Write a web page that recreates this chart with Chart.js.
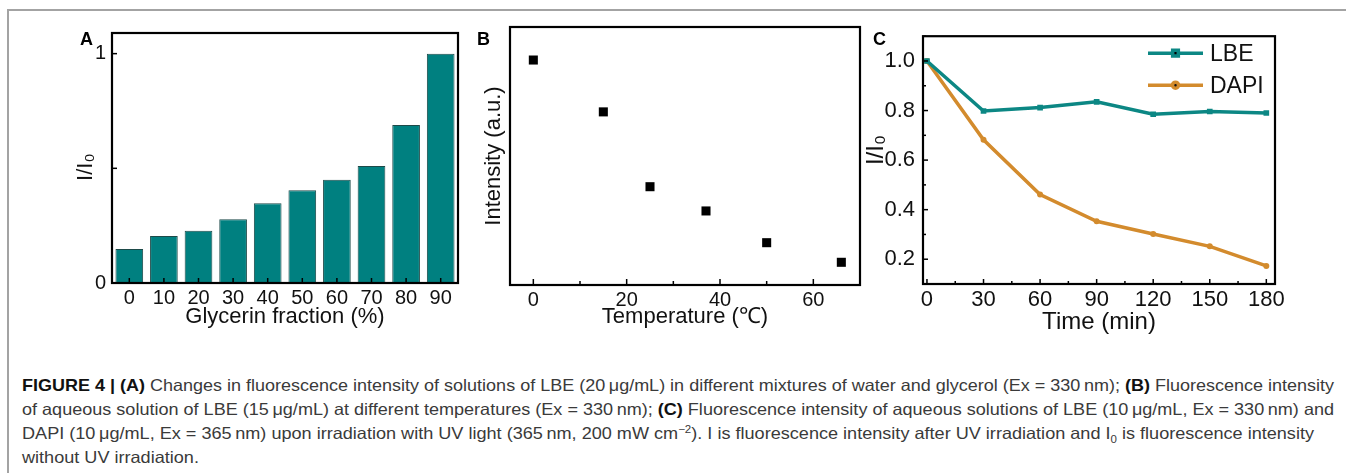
<!DOCTYPE html>
<html>
<head>
<meta charset="utf-8">
<script src="https://cdn.jsdelivr.net/npm/chart.js@4.4.1/dist/chart.umd.min.js"></script>
<style>
html,body{margin:0;padding:0;background:#fff;width:1346px;height:473px;overflow:hidden;font-family:"Liberation Sans",Arial,sans-serif;}
#frame{position:absolute;left:7px;top:9px;width:1339px;height:464px;border-top:2px solid #a3a3a3;border-left:2px solid #a3a3a3;box-sizing:border-box;}
canvas{position:absolute;}
.plabel{position:absolute;font-weight:bold;font-size:18px;line-height:1;color:#000;}
.cap{position:absolute;left:22px;white-space:nowrap;font-size:16.5px;line-height:1;color:#3a3a3a;transform-origin:0 0;font-family:"Liberation Sans Narrow","Liberation Sans",Arial,sans-serif;}
.cap b{color:#111;}
</style>
</head>
<body>
<div id="frame"></div>
<canvas id="ca" width="408" height="320" style="left:60px;top:15px"></canvas>
<canvas id="cb" width="400" height="320" style="left:468px;top:15px"></canvas>
<canvas id="cc" width="496" height="325" style="left:850px;top:15px"></canvas>
<div class="plabel" style="left:80px;top:30px">A</div>
<div class="plabel" style="left:477px;top:30px">B</div>
<div class="plabel" style="left:873px;top:30px">C</div>

<div class="cap" style="top:377px"><b>FIGURE 4 | (A)</b> Changes in fluorescence intensity of solutions of LBE (20&#8201;μg/mL) in different mixtures of water and glycerol (Ex = 330&#8201;nm); <b>(B)</b> Fluorescence intensity</div>
<div class="cap" style="top:401px">of aqueous solution of LBE (15&#8201;μg/mL) at different temperatures (Ex = 330&#8201;nm); <b>(C)</b> Fluorescence intensity of aqueous solutions of LBE (10&#8201;μg/mL, Ex = 330&#8201;nm) and</div>
<div class="cap" style="top:425px">DAPI (10&#8201;μg/mL, Ex = 365&#8201;nm) upon irradiation with UV light (365&#8201;nm, 200 mW cm<sup style="font-size:10.5px;line-height:0">−2</sup>). I is fluorescence intensity after UV irradiation and I<sub style="font-size:10.5px;line-height:0">0</sub> is fluorescence intensity</div>
<div class="cap" style="top:448.5px">without UV irradiation.</div>

<script>
// ---------- data ----------
const glycerinLabels = ['0','10','20','30','40','50','60','70','80','90'];
const glycerinRatio  = [0.148,0.205,0.228,0.278,0.348,0.404,0.450,0.510,0.689,1.0];

const temperature = [0,15,25,37,50,66];
const intensity   = [87.2,67.1,38.1,28.7,16.4,8.8];

const timeMin   = [0,30,60,90,120,150,180];
const lbeRatio  = [1.0,0.798,0.812,0.835,0.785,0.796,0.790];
const dapiRatio = [1.0,0.682,0.461,0.353,0.302,0.252,0.173];

const FONT = '"Liberation Sans", Arial, sans-serif';
Chart.defaults.font.family = FONT;
Chart.defaults.color = '#111';
Chart.defaults.animation = false;

// frame + inward ticks plugin
const frameTicks = {
  id: 'frameTicks',
  afterDatasetsDraw(chart, args, opts) {
    const {ctx, chartArea: a} = chart;
    ctx.save();
    ctx.strokeStyle = '#000';
    ctx.lineWidth = 1.5;
    for (const [id, cfg] of Object.entries(opts.axes || {})) {
      const s = chart.scales[id];
      s.ticks.forEach((t, i) => {
        const major = cfg.isMajor ? cfg.isMajor(t.value, i) : true;
        const len = major ? cfg.major : cfg.minor;
        if (!len) return;
        const p = s.getPixelForTick(i);
        ctx.beginPath();
        if (s.isHorizontal()) { ctx.moveTo(p, a.bottom); ctx.lineTo(p, a.bottom - len); }
        else { ctx.moveTo(a.left, p); ctx.lineTo(a.left + len, p); }
        ctx.stroke();
      });
    }
    ctx.lineWidth = 2.2;
    ctx.strokeRect(a.left, a.top, a.right - a.left, a.bottom - a.top);
    ctx.restore();
  }
};

// in-plot legend plugin for panel C
const innerLegend = {
  id: 'innerLegend',
  afterDraw(chart, args, opts) {
    if (!opts.show) return;
    const {ctx, chartArea: a} = chart;
    ctx.save();
    chart.data.datasets.forEach((ds, i) => {
      const y = a.top + opts.top + i * opts.gap;
      const x0 = a.right - opts.fromRight, x1 = x0 + opts.lineLen;
      ctx.strokeStyle = ds.borderColor;
      ctx.lineWidth = ds.borderWidth;
      ctx.beginPath(); ctx.moveTo(x0, y); ctx.lineTo(x1, y); ctx.stroke();
      Chart.helpers.drawPoint(ctx, {pointStyle: ds.pointStyle, radius: ds.pointRadius, borderWidth: 1}, (x0 + x1) / 2, y);
      ctx.fillStyle = '#111';
      ctx.font = opts.fontSize + 'px ' + FONT;
      ctx.textBaseline = 'middle';
      ctx.textAlign = 'left';
      ctx.fillText(ds.label, x1 + 7, y + 1);
    });
    ctx.restore();
  }
};

const noGrid = {display: false, drawTicks: false};
const noBorder = {display: false};

// ---------- Panel A ----------
new Chart(document.getElementById('ca'), {
  type: 'bar',
  data: {
    labels: glycerinLabels,
    datasets: [{
      data: glycerinRatio,
      backgroundColor: '#008080',
      borderColor: '#1d4a49',
      borderWidth: 1,
      barPercentage: 0.8,
      categoryPercentage: 1.0
    }]
  },
  options: {
    responsive: false,
    layout: {padding: {top: 13, right: 10, left: 0, bottom: 0}},
    plugins: {
      legend: {display: false}, tooltip: {enabled: false},
      frameTicks: {axes: {x: {major: 5}, y: {major: 5}}}
    },
    scales: {
      x: {
        type: 'category', offset: true,
        grid: noGrid, border: noBorder,
        ticks: {font: {size: 20}, padding: 3, maxRotation: 0, autoSkip: false},
        title: {display: true, text: 'Glycerin fraction (%)', font: {size: 22}, padding: {top: 0, bottom: 5}},
        afterFit(s) { s.height = 52; }
      },
      y: {
        min: 0, max: 1.09,
        grid: noGrid, border: noBorder,
        ticks: {stepSize: 0.5, includeBounds: false, font: {size: 20}, padding: 6,
          callback: v => (v === 0 || v === 1) ? String(v) : ''},
        title: {display: true, text: 'I/I₀   ', font: {size: 22}, padding: {top: 13, bottom: 0}},
        afterFit(s) { s.width = 52; }
      }
    }
  },
  plugins: [frameTicks]
});

// ---------- Panel B ----------
new Chart(document.getElementById('cb'), {
  type: 'scatter',
  data: {
    datasets: [{
      data: temperature.map((t, i) => ({x: t, y: intensity[i]})),
      pointStyle: 'rect', pointRadius: 6.4,
      backgroundColor: '#000', borderColor: '#000', borderWidth: 0,
      showLine: false
    }]
  },
  options: {
    responsive: false,
    layout: {padding: {top: 12, right: 8, left: 0, bottom: 0}},
    plugins: {
      legend: {display: false}, tooltip: {enabled: false},
      frameTicks: {axes: {x: {major: 6, minor: 4, isMajor: v => v % 20 === 0}}}
    },
    scales: {
      x: {
        type: 'linear', min: -5, max: 70,
        grid: noGrid, border: noBorder,
        ticks: {stepSize: 10, includeBounds: false, font: {size: 20}, padding: 3, maxRotation: 0, autoSkip: false,
          callback: v => v % 20 === 0 ? String(v) : ''},
        title: {display: true, text: 'Temperature (℃)', font: {size: 22}, padding: {top: 0, bottom: 5}},
        afterFit(s) { s.height = 50; }
      },
      y: {
        min: 0, max: 100,
        grid: noGrid, border: noBorder,
        ticks: {display: false},
        title: {display: true, text: 'Intensity (a.u.)', font: {size: 22}, padding: {top: 13, bottom: 0}},
        afterFit(s) { s.width = 42; }
      }
    }
  },
  plugins: [frameTicks]
});

// ---------- Panel C ----------
const isEvenTenth = v => { const r = Math.round(v * 10); return r % 2 === 0 && r >= 2 && r <= 10; };
new Chart(document.getElementById('cc'), {
  type: 'line',
  data: {
    datasets: [
      {label: 'LBE', data: timeMin.map((t, i) => ({x: t, y: lbeRatio[i]})),
       borderColor: '#0c8784', backgroundColor: '#0c8784', borderWidth: 3.5,
       pointStyle: 'rect', pointRadius: 4, pointBorderWidth: 0, tension: 0},
      {label: 'DAPI', data: timeMin.map((t, i) => ({x: t, y: dapiRatio[i]})),
       borderColor: '#d38b2d', backgroundColor: '#d38b2d', borderWidth: 3.5,
       pointStyle: 'circle', pointRadius: 3, pointBorderWidth: 0, tension: 0}
    ]
  },
  options: {
    responsive: false,
    layout: {padding: {top: 13, right: 71, left: 0, bottom: 0}},
    plugins: {
      legend: {display: false}, tooltip: {enabled: false},
      frameTicks: {axes: {
        x: {major: 5, minor: 3, isMajor: v => v % 30 === 0},
        y: {major: 5, minor: 3, isMajor: isEvenTenth}
      }},
      innerLegend: {show: true, top: 17, gap: 32, fromRight: 127, lineLen: 55, fontSize: 23}
    },
    scales: {
      x: {
        type: 'linear', min: -2.1, max: 184.6,
        grid: noGrid, border: noBorder,
        ticks: {stepSize: 15, includeBounds: false, font: {size: 22}, padding: 3, maxRotation: 0, autoSkip: false,
          callback: v => v % 30 === 0 ? String(v) : ''},
        title: {display: true, text: 'Time (min)', font: {size: 24}, padding: {top: 0, bottom: 3}},
        afterFit(s) { s.height = 56; }
      },
      y: {
        min: 0.1, max: 1.1,
        grid: noGrid, border: noBorder,
        ticks: {stepSize: 0.1, includeBounds: false, font: {size: 22}, padding: 8, autoSkip: false,
          callback: v => isEvenTenth(v) ? v.toFixed(1) : ''},
        title: {display: true, text: '   I/I₀', font: {size: 24}, padding: {top: 12, bottom: 0}},
        afterFit(s) { s.width = 73; }
      }
    }
  },
  plugins: [frameTicks, innerLegend]
});

// ---------- caption fitting ----------
const capTargets = [1312, 1312, 1292];
let lastScale = 1;
document.querySelectorAll('.cap').forEach((el, i) => {
  const w = el.getBoundingClientRect().width;
  const sc = capTargets[i] ? capTargets[i] / w : lastScale;
  lastScale = sc;
  el.style.transform = 'scaleX(' + sc + ')';
});
</script>
</body>
</html>
